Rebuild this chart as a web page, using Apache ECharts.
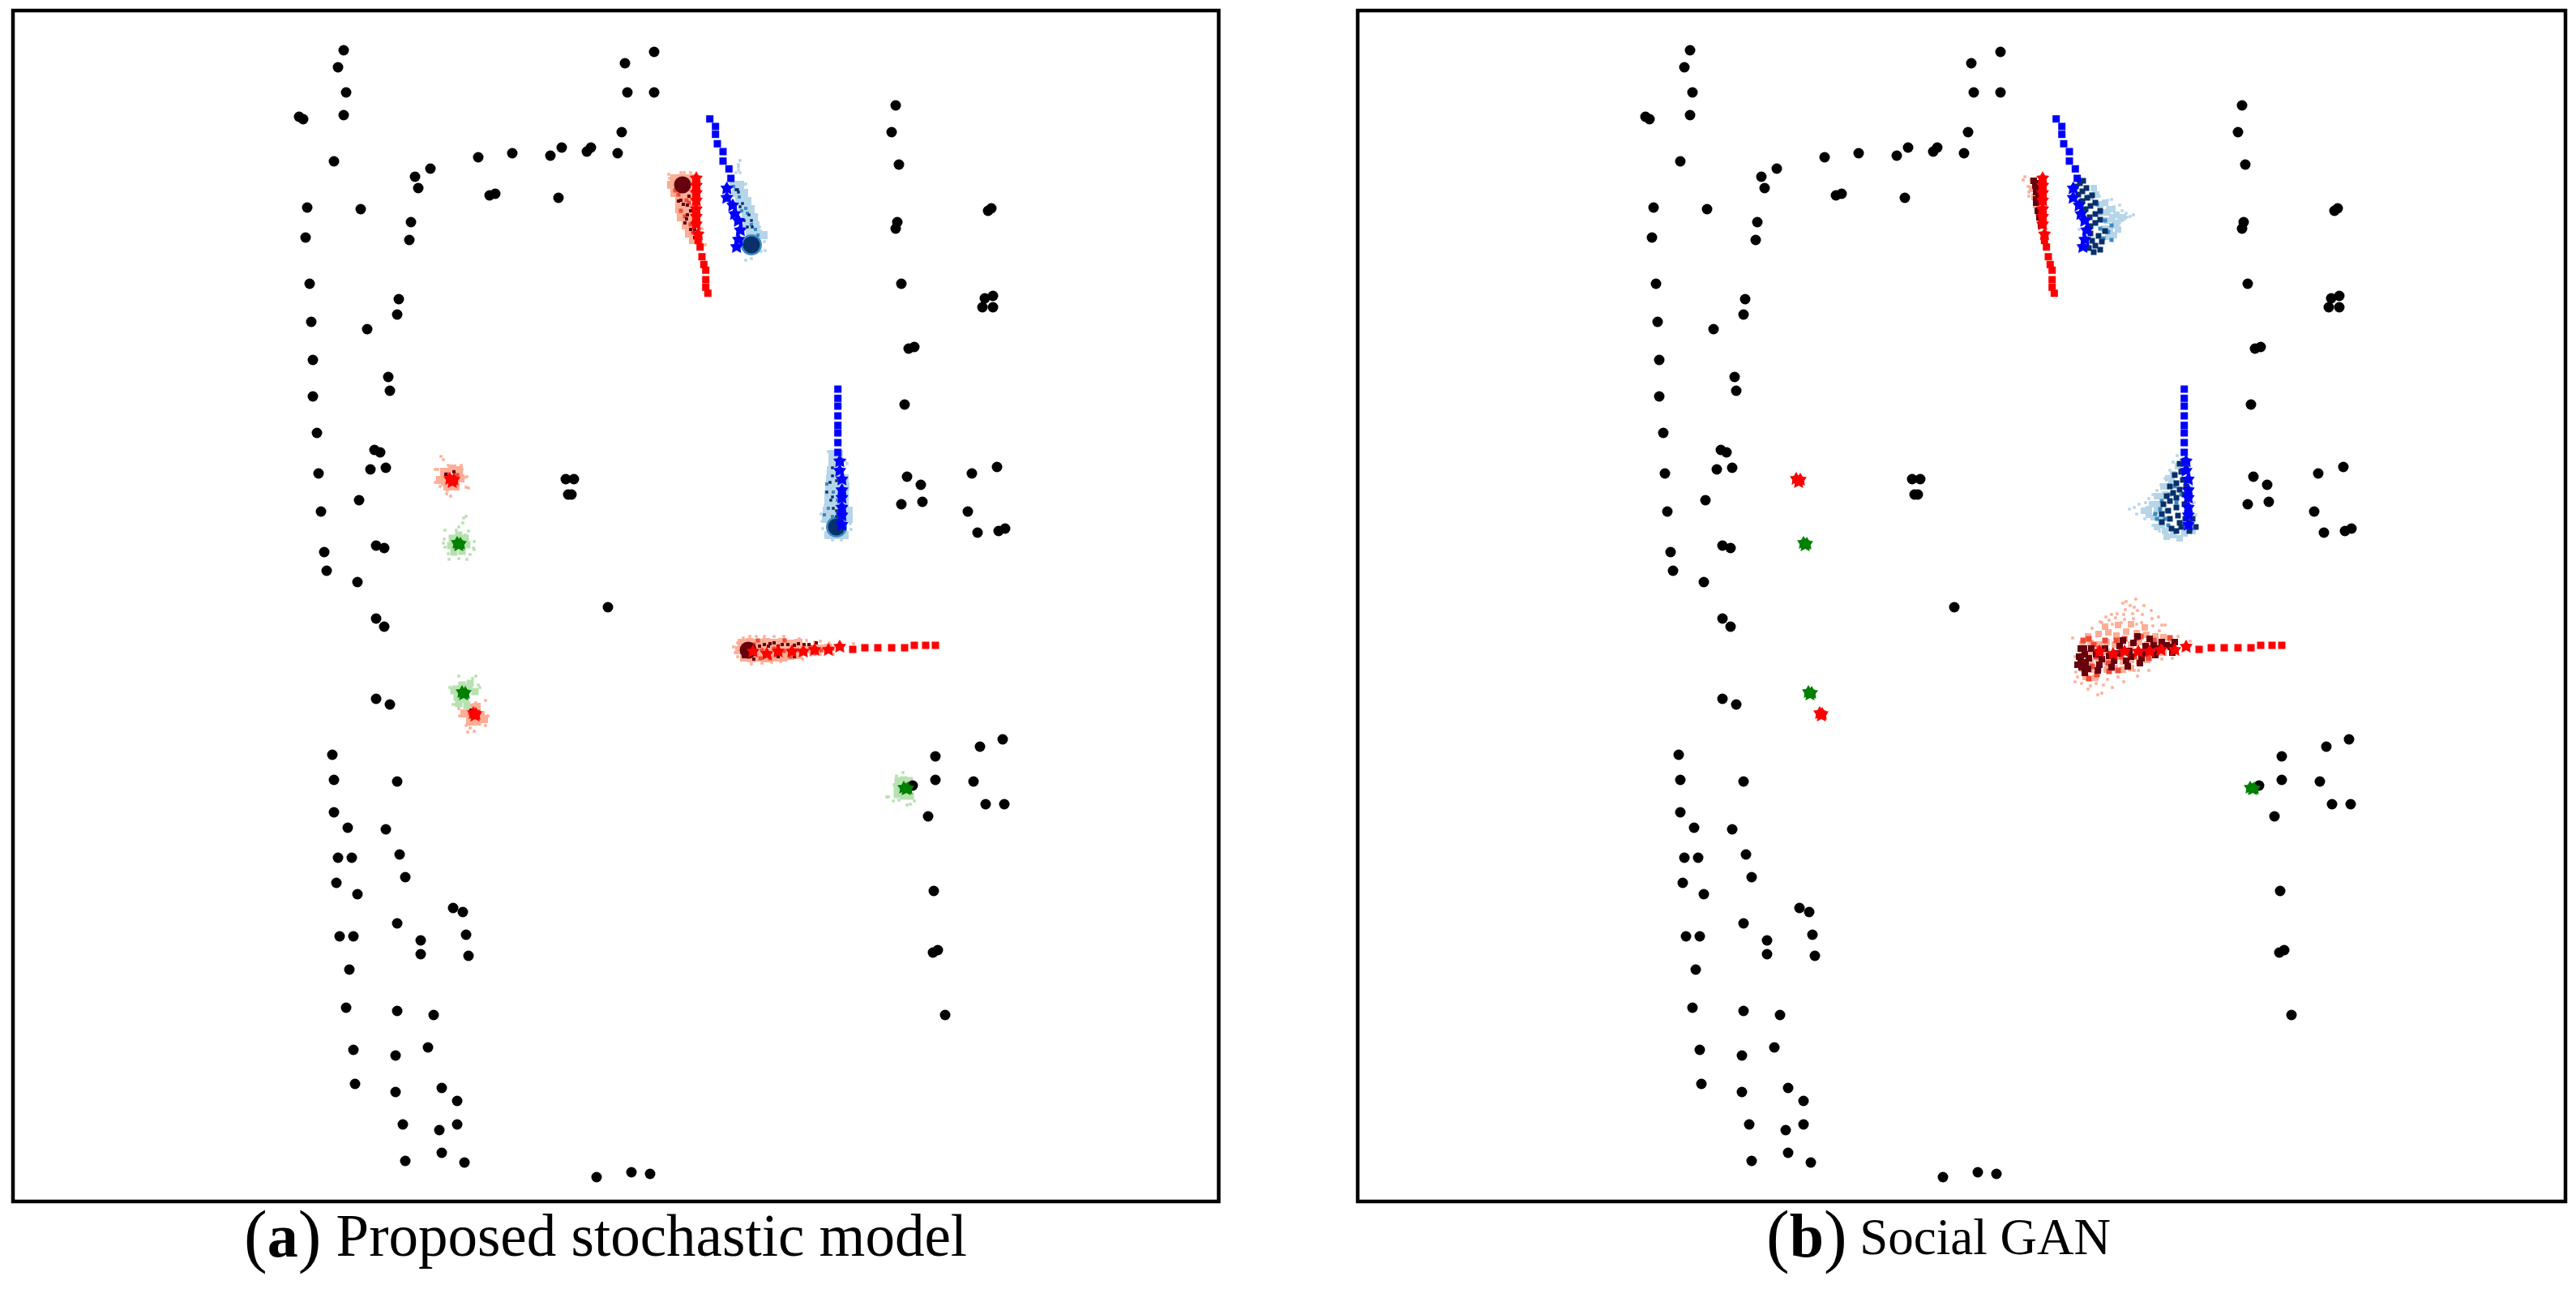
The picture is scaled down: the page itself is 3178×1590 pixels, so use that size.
<!DOCTYPE html>
<html><head><meta charset="utf-8">
<style>html,body{margin:0;padding:0;background:#fff}#c{width:3178px;height:1590px}</style>
<script src="https://cdn.jsdelivr.net/npm/echarts@6/dist/echarts.min.js"></script>
</head><body><div id="c"></div>
<script>
const captionA = 'Proposed stochastic model';
const captionB = 'Social GAN';

const obstacles = [[424,62],[417,83],[427,114],[424,142],[369,144],[374,147],[412,199],[590,194],[632,189],[679,192],[693,182],[724,187],[729,182],[762,189],[767,163],[774,114],[771,78],[531,208],[512,218],[516,232],[604,241],[611,239],[689,244],[379,256],[445,258],[507,274],[505,296],[377,293],[382,350],[492,369],[490,388],[384,397],[453,406],[386,444],[479,465],[481,482],[386,489],
[391,534],[462,555],[469,558],[393,584],[457,579],[476,577],[443,617],[396,631],[698,591],[708,591],[701,610],[705,610],[464,673],[474,676],[400,681],[403,704],[441,718],[464,763],[474,773],[750,749],[464,862],[481,869],[410,931],[412,962],[490,964],
[412,1002],[429,1021],[476,1023],[493,1054],[417,1058],[434,1058],[500,1082],[415,1089],[441,1103],[559,1120],[571,1125],[490,1139],[419,1155],[436,1155],[575,1153],[519,1160],[519,1177],[578,1179],[431,1196],[427,1243],[490,1247],[535,1252],[436,1295],[528,1292],[488,1302],[438,1337],[488,1347],[545,1342],[564,1358],[497,1387],[564,1387],[542,1394],[545,1422],[500,1432],[573,1434],[736,1452],[779,1446],[802,1448],
[807,64],[807,114],[1105,130],[1100,163],[1109,203],[1107,274],[1105,282],[1219,260],[1223,257],[1112,350],[1215,368],[1225,365],[1212,379],[1225,379],[1121,430],[1128,428],[1116,499],
[1119,588],[1136,598],[1112,622],[1138,619],[1199,584],[1230,576],[1194,631],[1206,657],[1232,655],[1240,652],
[1237,912],[1209,921],[1154,933],[1154,962],[1201,964],[1126,969],[1216,992],[1239,992],[1145,1007],[1152,1099],[1151,1175],[1157,1172],[1166,1252]];

const blueObserved = [[875.7,146.7],[882.7,156],[882.7,165.7],[885,177.3],[892,187],[892,198.7],[899.3,208.3],[901.7,220],
  [1033.7,480],[1033.7,491.3],[1033.7,501],[1033.7,513],[1033.7,524.7],[1033.7,534],[1033.7,546],[1033.7,558]];
const blueFuture = [[896.7,231.7],[896.7,243.3],[904,252.7],[906.3,263.3],[911,271.7],[913.3,283.3],[911,295],[908.7,304],
  [1036,568.3],[1036,580],[1038.7,590.7],[1038.7,604],[1038.7,613.3],[1038.7,625.3],[1038.7,635],[1038.7,646.7]];
const redObserved = [[873.3,361.7],[870.7,354.3],[870.7,345],[870.7,333.3],[868.3,326.3],[866,316.7],[863.7,304.7],[861.3,296.7],
  [1154,796],[1142,796],[1128,796],[1116,799],[1100,799],[1083,799],[1067,799],[1052,801]];
const redFuture = [[861.3,288.3],[859,276],[859,266.7],[859,257.3],[859,246.7],[859,237.3],[859,228.3],[859,219.3],
  [1036,797],[1022,801],[1005,801],[991,803],[977,803],[960,803],[946,806],[929,803],
  [555,590],[558,594],[560,591],[584,879],[586,882],[587,880]];
const greenFuture = [[564,669],[566,672],[568,670],[570,853],[572,856],[574,854],[1115,971],[1118,973],[1120,972]];

// panel (a) red samples
const aRedFill = [[548,582],[558,578],[566,580],[548,592],[558,590],[568,590],[552,600],[562,600],[543,592],
 [580,873],[588,872],[573,880],[580,882],[593,882],[580,890],[588,890],[597,887],
 [832,220],[842,220],[852,220],[828,228],[836,228],[846,228],[852,228],[832,238],[842,238],[852,238],[838,248],[848,248],[838,258],[848,258],[856,258],[840,268],[850,268],[856,268],[846,278],[854,278],[850,288],[858,288],[855,296],[862,296],
 [915,793],[925,792],[935,793],[945,792],[955,793],[965,792],[975,794],[985,793],[912,802],[922,802],[932,802],[942,802],[952,802],[962,802],[972,802],[982,802],[992,801],[1002,801],[1012,800],[1022,799],[918,811],[927,812],[936,811],[945,812],[955,811],[965,811],[975,809],[985,808]];
const aRedSpeck = [[544,563],[547,567],[537,579],[540,579],[537,595],[541,590],[573,589],[576,588],[575,601],[552,605],[551,609],[556,612],[553,574],[569,574],[570,579],[578,602],[546,598],[543,600],
 [599,864],[587,867],[566,874],[567,883],[602,883],[575,895],[599,895],[580,898],[577,903],[585,902],[592,893],
 [825,215],[840,213],[844,213],[852,213],[826,220],[830,222],[870,302],[825,225],[866,282],[837,217],
 [907,805],[917,787],[925,785],[933,785],[943,785],[955,785],[967,785],[986,788],[1023,793],[1053,794],[927,819],[940,818],[910,810],[963,816],[990,813],[1028,807],[995,790],[1005,792],[1012,791],[1000,808],[1012,807],[970,814],[952,817],[905,798],[910,793]];
const aRedMid = [[833,235],[837,240],[847,247],[840,260],[845,267],[852,277],[850,250],[855,287],[580,880],[590,878],[552,585],[564,586],
 [940,802],[955,800],[967,803],[983,802],[1000,798],[1013,802],[1027,800],[930,795],[950,812],[975,810],[935,790],[945,806],[958,808],[990,806],[1005,806],[938,812],[968,790]];
const aRedDark = [[837,248],[843,252],[845,235],[850,242],[848,253],[847,270],[845,275],[852,283],[857,283],[857,293],[848,265],[852,260],[840,247],
 [943,795],[948,797],[955,793],[960,797],[972,795],[980,796],[992,795],[1007,793],[943,810],[960,810],[980,810],[930,813],[917,810],[550,585],[560,582],[581,876],[950,794],[965,795],[985,794],[998,795],[937,797]];
const aRedCore = [[842,228],[923,802]];

// panel (a) blue samples
const aBlueFill = [[905,228],[913,228],[908,238],[918,238],[912,248],[922,248],[916,258],[926,258],[920,268],[930,268],[922,278],[932,278],[925,288],[935,288],[942,290],
 [1027,560],[1035,560],[1027,570],[1035,570],[1025,580],[1033,580],[1024,590],[1034,590],[1042,590],[1023,600],[1033,600],[1043,600],[1022,610],[1032,610],[1042,610],[1022,620],[1032,620],[1042,620],[1020,630],[1030,630],[1040,630],[1047,630],[1019,640],[1029,640],[1039,640],[1047,640],[1022,660],[1032,660],[1042,660]];
const aBlueSpeck = [[913,198],[911,203],[911,206],[911,210],[913,213],[908,213],[917,227],[920,227],[925,251],[932,270],[937,280],[940,288],[943,298],[944,309],[920,321],[927,319],[939,310],
 [1022,557],[1045,572],[1043,568],[1015,652],[1014,643],[1018,623],[1020,659],[1050,653],[1038,666],[1027,666],[1013,634],[1049,646]];
const aBlueMid = [[905,230],[912,243],[920,257],[927,277],[922,263],[932,283],[915,260],[935,290],[1020,597],[1022,627],[1017,635],[1027,637],[1028,607],[1037,620],[1033,617]];
const aBlueDark = [[910,234],[908,234],[916,251],[924,265],[911,237],[927,272],[922,280],[928,280],[918,272],[913,255],[1027,577],[1024,595],[1027,587],[1027,613],[1025,617],[1028,627],[1032,630],[1032,637],[1020,607],[1032,593]];
const aBlueRing = [[927,302],[1032,650]];
const aBlueCore = [[927,302],[1032,650]];

// panel (a) green samples
const aGreenFill = [[558,664],[566,660],[574,664],[556,673],[566,672],[576,672],[560,681],[570,680],
 [562,850],[570,845],[578,848],[586,853],[564,860],[574,862],[566,868],[576,870],[560,852],[580,843],
 [1108,963],[1115,962],[1107,972],[1107,980],[1115,982],[1123,982],[1122,963]];
const aGreenSpeck = [[549,654],[578,655],[574,660],[585,668],[585,678],[548,665],[549,675],[553,683],[554,690],[566,689],[576,690],[580,684],[584,676],[575,637],[572,639],[571,645],[566,650],[563,654],[547,670],
 [566,834],[587,834],[583,837],[555,848],[592,848],[562,869],[559,869],[590,845],
 [1114,953],[1106,957],[1094,983],[1096,983],[1102,988],[1109,987],[1119,993],[1128,988],[1103,968],[1123,992]];

// panel (b) red samples
const bRedFill = [[847,223],[846,233],[849,243],[851,253],[854,263],[856,273],
 [936,773],[952,771],[968,770],[985,774],
 [915,785],[928,782],[940,780],[950,784],[962,779],[975,781],[987,783],[998,785],[1008,786],
 [908,795],[918,793],[929,795],[938,792],[948,795],[958,791],[968,795],[978,792],[988,795],[998,793],[1008,795],[1018,793],
 [908,805],[918,804],[928,806],[938,804],[948,806],[958,804],[968,806],[978,804],[988,806],[998,804],[1008,805],
 [908,815],[918,816],[928,814],[938,816],[948,814],[958,816],[968,814],[978,816],[988,814],
 [908,825],[918,826],[928,824],[938,826],[948,824],[958,826],[968,824],[912,835],[924,836]];
const bRedSpeck = [[837,218],[835,222],[842,237],[842,242],[841,230],[844,222],[849,250],
 [974,739],[962,742],[958,744],[984,747],[972,749],[967,747],[961,752],[970,757],[976,753],[993,753],[951,757],[944,758],[937,761],[959,758],[982,758],[1002,761],[994,763],[941,765],[932,768],[956,768],[971,763],[981,768],[1006,771],[1010,771],[949,762],[896,787],[899,810],[900,829],[902,835],[899,841],[907,843],[915,850],[918,846],[925,843],[927,857],[932,855],[934,845],[945,848],[939,838],[952,835],[959,841],[976,834],[972,827],[990,827],[977,827],[1006,813],[1019,812],[1041,791],[1026,785],[920,775],[930,767],[945,770],[960,764],[975,770],[995,772],[1003,778]];
const bRedMid = [[909,790],[916,788],[929,800],[942,807],[956,810],[972,810],[989,803],[1009,797],[916,837],[926,832],[941,828],[952,827],[996,790],[1016,787],[925,810],[950,790],[980,785],[922,795],[936,790],[960,788],[975,787],[1000,805],[940,818],[920,822],[990,812]];
const bRedDark = [[850,226],[850,229],[851,237],[851,246],[851,250],[853,260],[855,268],[857,278],[848,223],[853,232],[854,243],
 [1022,792],[1017,798],[1019,805],[1006,792],[1002,800],[998,808],[991,788],[986,797],[981,812],[979,818],[971,793],[966,803],[962,815],[964,822],[954,797],[947,815],[944,823],[929,820],[927,827],[932,813],[936,800],[906,800],[911,807],[906,815],[912,817],[907,823],[916,812],[911,830],[904,810],[919,800],[910,800],[902,820],[915,825],[951,806],[983,805],[968,810],[1012,796],[996,796],[976,785],[958,790],[941,809],[925,807]];

// panel (b) blue samples
const bBlueFill = [[925,240],[930,252],[936,250],[932,262],[938,262],[945,258],[938,272],[945,270],[935,282],[942,282],[948,275],[940,292],[947,290],[952,283],[945,268],[922,232],[918,243],[950,265],[955,270],[942,258],[950,278],[958,268],
 [1000,630],[990,628],[996,638],[1006,648],[1002,622],[1012,600],[1020,585],[1026,575],[1004,612],[1010,655],[1020,660],[1034,658],[1044,655],[1005,640],[1018,592],[1010,610],[990,635],[984,630],[994,622],[1000,612],[1008,600],[1014,590],[1000,650],[1012,662],[1028,664]];
const bBlueSpeck = [[939,247],[944,246],[954,253],[947,255],[939,257],[941,257],[957,260],[962,263],[971,265],[967,267],[963,268],[947,267],[954,268],[954,275],[947,280],[941,263],[922,237],[929,242],[914,230],[904,283],[934,253],
 [966,628],[972,626],[978,622],[982,632],[986,620],[990,615],[995,610],[1000,605],[1005,598],[975,634],[985,640],[995,648],[1003,655],[1010,590],[1016,580],[1020,570],[1025,562],[1043,600],[1046,620],[1048,635]];
const bBlueMid = [[930,262],[936,272],[930,282],[944,278],[940,286],[926,252],[920,240],[934,294],[944,296],
 [1004,628],[1010,640],[1016,610],[1022,600],[1014,648],[1000,640],[1024,620],[1030,610],[998,634],[1006,618],[1012,630]];
const bBlueDark = [[900,230],[905,226],[909,223],[903,240],[908,236],[913,232],[908,248],[914,244],[920,241],[912,258],[918,254],[924,250],[917,268],[924,264],[930,260],[918,279],[924,275],[930,271],[920,297],[928,291],[936,285],[918,288],[916,306],[924,303],[932,298],[922,311],[930,308],
 [1028,572],[1034,568],[1022,586],[1030,582],[1036,578],[1016,600],[1024,596],[1032,592],[1012,612],[1020,608],[1028,604],[1036,600],[1008,622],[1016,618],[1024,614],[1034,610],[1006,634],[1014,630],[1024,626],[1034,622],[1006,644],[1016,640],[1026,636],[1038,632],[1018,652],[1030,650],[1040,646],[1048,650],[1028,645],[1040,655],[1024,655],[1035,640],[1044,640]];

const STAR = 'path://M0,-10L3.6,-3.8L10,-3L6,2.4L7,10L0,6.4L-7,10L-6,2.4L-10,-3L-3.6,-3.8Z';
const LIGHT = {red:'#fcae96', blue:'#b6d5e9', green:'#b7e1b0'};
const MID = {red:'#ef4a36', blue:'#3a8bc2'};
const DARK = {red:'#67000d', blue:'#08306b'};

function pts(data, grid, symbol, size, color, z){
  return {type:'scatter', xAxisIndex:grid, yAxisIndex:grid, data, symbol, symbolSize:size,
    itemStyle:{color, opacity:1}, z, silent:true, animation:false, clip:false};
}
function panel(g, sets){
  const out = [];
  sets.forEach(s => {
    if (s.fill) out.push(pts(s.fill, g, 'rect', s.fillSize, LIGHT[s.hue], 2));
    if (s.speck) out.push(pts(s.speck, g, 'rect', 3.5, LIGHT[s.hue], 2));
    if (s.ring) out.push(pts(s.ring, g, 'circle', 26, MID[s.hue], 3));
    if (s.mid) out.push(pts(s.mid, g, 'rect', s.midSize, MID[s.hue], 3));
    if (s.dark) out.push(pts(s.dark, g, 'rect', s.darkSize, DARK[s.hue], 4));
    if (s.core) out.push(pts(s.core, g, 'circle', 21, DARK[s.hue], 4));
  });
  out.push(pts(obstacles, g, 'circle', 13, '#000', 5));
  out.push(pts(blueObserved, g, 'rect', 9, '#0000ff', 6));
  out.push(pts(redObserved, g, 'rect', 9, '#ff0000', 6));
  out.push(pts(blueFuture, g, STAR, 16, '#0000ff', 6));
  out.push(pts(redFuture, g, STAR, 16, '#ff0000', 6));
  out.push(pts(greenFuture, g, STAR, 16, '#008000', 6));
  return out;
}
const series = [].concat(
  panel(0, [
    {hue:'red', fill:aRedFill, fillSize:10, speck:aRedSpeck, mid:aRedMid, midSize:5, dark:aRedDark, darkSize:4, core:aRedCore},
    {hue:'blue', fill:aBlueFill, fillSize:10, speck:aBlueSpeck, ring:aBlueRing, mid:aBlueMid, midSize:4, dark:aBlueDark, darkSize:3.5, core:aBlueCore},
    {hue:'green', fill:aGreenFill, fillSize:9, speck:aGreenSpeck}
  ]),
  panel(1, [
    {hue:'red', fill:bRedFill, fillSize:8, speck:bRedSpeck, mid:bRedMid, midSize:7, dark:bRedDark, darkSize:8},
    {hue:'blue', fill:bBlueFill, fillSize:8, speck:bBlueSpeck, mid:bBlueMid, midSize:5, dark:bBlueDark, darkSize:7}
  ])
);

const axisBase = {show:false};
const chart = echarts.init(document.getElementById('c'), null, {renderer:'canvas'});
const rich = (size) => ({
  p:{fontFamily:'Liberation Serif', fontSize:86, fontWeight:'normal', color:'#000'},
  b:{fontFamily:'Liberation Serif', fontSize:76, fontWeight:'bold', color:'#000'},
  t:{fontFamily:'Liberation Serif', fontSize:size, fontWeight:'normal', color:'#000'}
});
chart.setOption({
  animation:false,
  backgroundColor:'#fff',
  title:[
    {text:'{p|(}{b|a}{p|)}{t| '+captionA+'}', left:296, top:1482, textStyle:{rich:rich(73), fontWeight:'normal'}},
    {text:'{p|(}{b|b}{p|)}{t| '+captionB+'}', left:2174, top:1482, textStyle:{rich:rich(63), fontWeight:'normal'}}
  ],
  grid:[
    {left:16, top:13, width:1487.5, height:1469, show:true, borderColor:'#000', borderWidth:4.5, backgroundColor:'#fff'},
    {left:1675, top:13, width:1490, height:1469, show:true, borderColor:'#000', borderWidth:4.5, backgroundColor:'#fff'}
  ],
  xAxis:[
    {...axisBase, type:'value', gridIndex:0, min:16, max:1503.5},
    {...axisBase, type:'value', gridIndex:1, min:14, max:1504}
  ],
  yAxis:[
    {...axisBase, type:'value', gridIndex:0, min:13, max:1482, inverse:true},
    {...axisBase, type:'value', gridIndex:1, min:13, max:1482, inverse:true}
  ],
  series
});
</script></body></html>
